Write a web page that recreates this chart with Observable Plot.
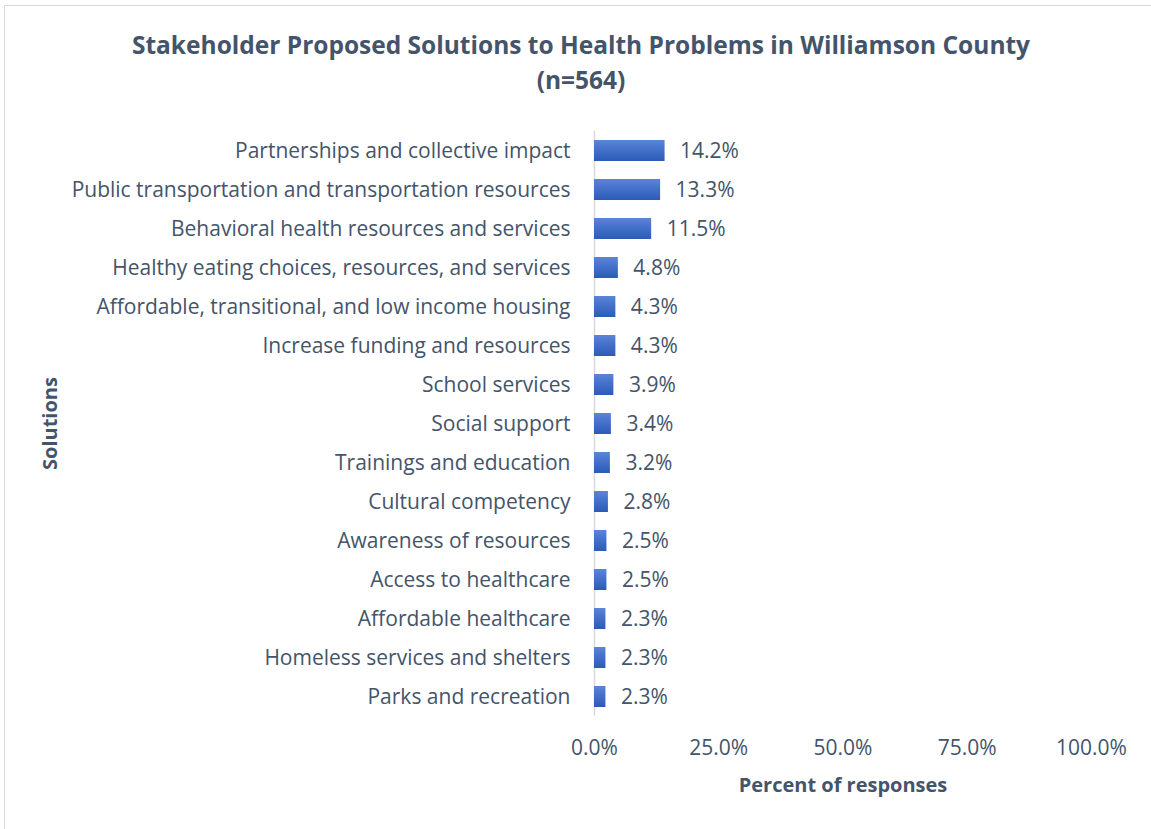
<!DOCTYPE html>
<html>
<head>
<meta charset="utf-8">
<script src="https://cdn.jsdelivr.net/npm/d3@7"></script>
<script src="https://cdn.jsdelivr.net/npm/@observablehq/plot@0.6"></script>
<style>
  html, body { margin: 0; padding: 0; background: #fff; overflow: hidden; }
  #wrap { position: relative; width: 1151px; height: 829px; overflow: hidden; font-family: "Open Sans", "Noto Sans", sans-serif; color: #44546a; }
  #border { position: absolute; left: 4px; top: 5px; width: 1200px; height: 900px; border: 1px solid #d9d9d9; box-sizing: border-box; }
  #title { position: absolute; left: 0; top: 27px; width: 1162px; text-align: center; font-weight: bold; font-size: 24.5px; line-height: 35px; }
  #chart { position: absolute; left: 0; top: 0; }
</style>
</head>
<body>
<div id="wrap">
  <div id="border"></div>
  <div id="chart"></div>
  <div id="title">Stakeholder Proposed Solutions to Health Problems in Williamson County<br>(n=564)</div>
</div>
<script>
const solutions = [
  "Partnerships and collective impact",
  "Public transportation and transportation resources",
  "Behavioral health resources and services",
  "Healthy eating choices, resources, and services",
  "Affordable, transitional, and low income housing",
  "Increase funding and resources",
  "School services",
  "Social support",
  "Trainings and education",
  "Cultural competency",
  "Awareness of resources",
  "Access to healthcare",
  "Affordable healthcare",
  "Homeless services and shelters",
  "Parks and recreation"
];
const percents = [14.2, 13.3, 11.5, 4.8, 4.3, 4.3, 3.9, 3.4, 3.2, 2.8, 2.5, 2.5, 2.3, 2.3, 2.3];
const xTicks = [0, 25, 50, 75, 100];

const data = solutions.map((s, i) => ({solution: s, pct: percents[i]}));
const textColor = "#44546a";
const fs = 21;

const plot = Plot.plot({
  width: 1151,
  height: 829,
  marginLeft: 594,
  marginRight: 60,
  marginTop: 130.5,
  marginBottom: 113.5,
  style: {fontFamily: "'Open Sans', 'Noto Sans', sans-serif", fontSize: fs + "px", color: textColor, background: "transparent"},
  x: {domain: [0, 100]},
  y: {domain: solutions, paddingInner: 0.47, paddingOuter: 0.235},
  marks: [
    Plot.ruleX([0], {stroke: "#d9d9d9", strokeWidth: 1.5}),
    Plot.barX(data, {y: "solution", x: "pct", fill: "url(#barGrad)"}),
    Plot.text(data, {y: "solution", x: "pct", text: d => d.pct.toFixed(1) + "%", textAnchor: "start", dx: 15, fill: textColor, fontSize: fs}),
    Plot.axisY({tickSize: 0, tickPadding: 24, label: null, fontSize: fs}),
    Plot.axisY({tickSize: 0, ticks: [], label: "Solutions", labelAnchor: "center", labelOffset: 552, fontSize: 20}),
    Plot.axisX({ticks: xTicks, tickSize: 0, tickPadding: 24, tickFormat: d => d.toFixed(1) + "%", label: null, fontSize: fs}),
    Plot.axisX({ticks: [], tickSize: 0, label: "Percent of responses", labelAnchor: "center", labelArrow: false, labelOffset: 76, fontSize: 20})
  ]
});

// gradient definition for bars
const ns = "http://www.w3.org/2000/svg";
const defs = document.createElementNS(ns, "defs");
const grad = document.createElementNS(ns, "linearGradient");
grad.setAttribute("id", "barGrad");
grad.setAttribute("x1", "0"); grad.setAttribute("y1", "0");
grad.setAttribute("x2", "0"); grad.setAttribute("y2", "1");
[["0%", "#5a86d6"], ["50%", "#416fc9"], ["100%", "#2c5bb7"]].forEach(([o, c]) => {
  const st = document.createElementNS(ns, "stop");
  st.setAttribute("offset", o); st.setAttribute("stop-color", c);
  grad.appendChild(st);
});
defs.appendChild(grad);
plot.insertBefore(defs, plot.firstChild);

// bold axis labels
plot.querySelectorAll("[aria-label='y-axis label'], [aria-label='x-axis label']").forEach(g => {
  g.setAttribute("font-weight", "bold");
  g.querySelectorAll("text").forEach(t => t.setAttribute("fill", textColor));
});

document.getElementById("chart").appendChild(plot);
</script>
</body>
</html>
